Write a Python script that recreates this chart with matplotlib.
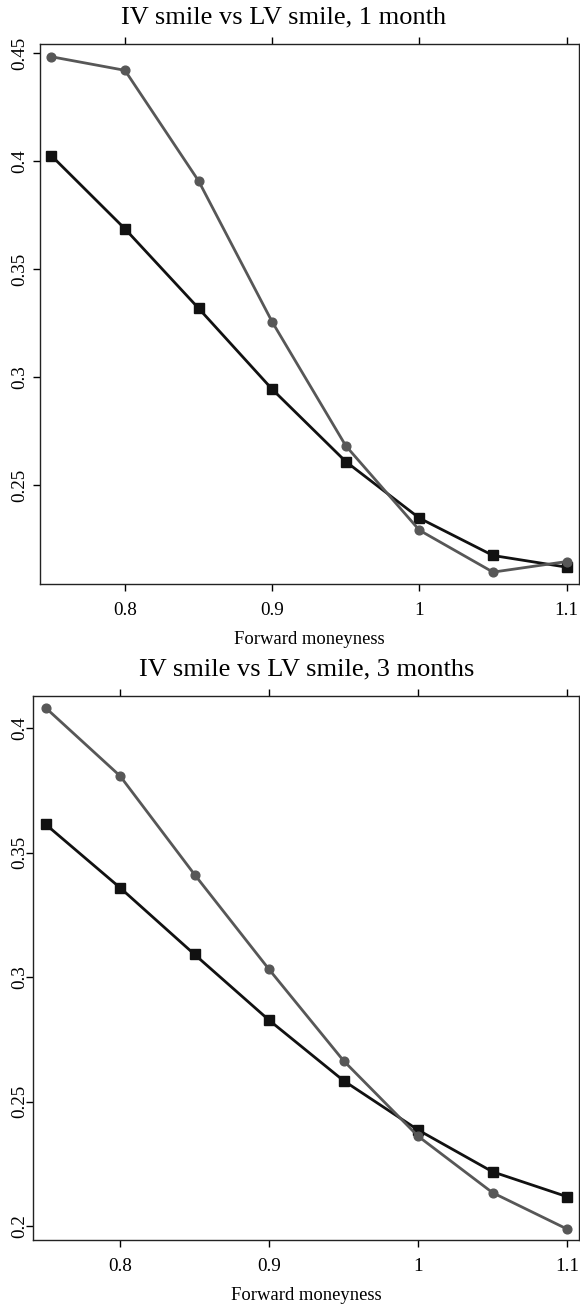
import matplotlib
matplotlib.use("Agg")
from matplotlib import pyplot as plt
import numpy as np

plt.rcParams['font.family'] = ['Liberation Serif', 'DejaVu Serif']

# forward moneyness grid and the two smiles for each maturity
moneyness = [0.75, 0.80, 0.85, 0.90, 0.95, 1.00, 1.05, 1.10]
iv_1m = [0.4026, 0.3687, 0.3319, 0.2944, 0.2609, 0.2347, 0.2174, 0.2120]
lv_1m = [0.4484, 0.4421, 0.3909, 0.3256, 0.2682, 0.2291, 0.2097, 0.2146]
iv_3m = [0.3614, 0.3359, 0.3091, 0.2827, 0.2584, 0.2386, 0.2218, 0.2118]
lv_3m = [0.4082, 0.3808, 0.3412, 0.3031, 0.2664, 0.2361, 0.2134, 0.1988]

xticks = [0.8, 0.9, 1.0, 1.1]
yticks_1m = [0.25, 0.30, 0.35, 0.40, 0.45]
yticks_3m = [0.20, 0.25, 0.30, 0.35, 0.40]

W, H = 580, 1309
fig = plt.figure(figsize=(W / 100, H / 100), dpi=100)


def box(left, top, right, bottom):
    return [left / W, 1 - bottom / H, (right - left) / W, (bottom - top) / H]


def smile_panel(rect, iv, lv, yticks, xlim, ylim, title, title_x, ypad):
    axe = fig.add_axes(rect)
    axe.plot(moneyness, iv, color='#111111', lw=2.0, marker='s', ms=7.0, zorder=3)
    axe.plot(moneyness, lv, color='#575757', lw=2.0, marker='o', ms=6.3, zorder=4)
    axe.set_xlim(*xlim)
    axe.set_ylim(*ylim)
    axe.set_xticks(xticks)
    axe.set_xticklabels(['%g' % v for v in xticks])
    axe.set_yticks(yticks)
    axe.set_yticklabels(['%g' % v for v in yticks], rotation=90, va='center')
    axe.tick_params(direction='out', length=4.8, width=1.0, labelsize=13.8,
                    top=True, right=True, labeltop=False, labelright=False)
    axe.tick_params(axis='x', pad=8.5)
    axe.tick_params(axis='y', pad=ypad)
    for sp in axe.spines.values():
        sp.set_linewidth(1.0)
        sp.set_color('#222222')
    axe.set_xlabel("Forward moneyness", fontsize=13.4)
    axe.xaxis.set_label_coords(0.5, -60 / (rect[3] * H))
    axe.xaxis.label.set_va('baseline')
    axe.text(title_x, 1 + 20.5 / (rect[3] * H), title, transform=axe.transAxes,
             ha='center', va='baseline', fontsize=19)
    return axe


smile_panel(box(40, 44, 579, 584), iv_1m, lv_1m, yticks_1m,
            (0.7423, 1.1084), (0.2042, 0.4543),
            "IV smile vs LV smile, 1 month", 0.4527, 3.6)
smile_panel(box(33, 696, 579, 1240), iv_3m, lv_3m, yticks_3m,
            (0.7416, 1.1080), (0.1944, 0.4129),
            "IV smile vs LV smile, 3 months", 0.5015, -1.4)

plt.savefig('out.png', dpi=100)
